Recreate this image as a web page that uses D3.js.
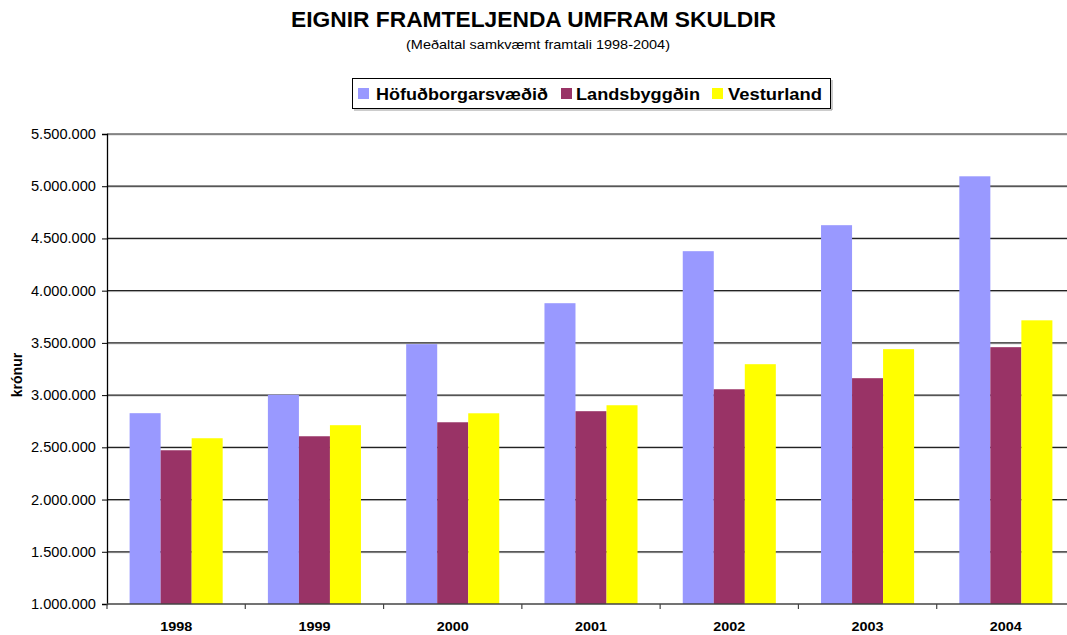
<!DOCTYPE html>
<html><head><meta charset="utf-8">
<script src="https://cdn.jsdelivr.net/npm/d3@7"></script>
<style>body{margin:0;background:#fff}svg{display:block;font-family:"Liberation Sans",Arial,sans-serif}</style>
</head><body><svg id="c" width="1067" height="635"></svg>
<script>
const years = ["1998","1999","2000","2001","2002","2003","2004"];
const seriesNames = ["Höfuðborgarsvæðið","Landsbyggðin","Vesturland"];
const hofud = [2827000,3003000,3488000,3880000,4378000,4627000,5095000];
const lands = [2472000,2606000,2740000,2846000,3056000,3162000,3459000];
const vestur = [2587000,2712000,2826000,2903000,3296000,3440000,3716000];
const yTicks = [1000000,1500000,2000000,2500000,3000000,3500000,4000000,4500000,5000000,5500000];
const colors = ["#9999FF","#993366","#FFFF00"];
const seriesVals = [hofud, lands, vestur];

const svg = d3.select("#c");
const L = 107, R = 1075, T = 134, B = 604;
const x = d3.scaleBand().domain(years).range([L, R]).paddingInner(0.327).paddingOuter(0.1635);
const x0 = d3.scaleBand().domain(years).range([L, R]);
const xs = d3.scaleBand().domain(d3.range(3)).range([0, x.bandwidth()]);
const y = d3.scaleLinear().domain([1000000, 5500000]).range([B, T]);
const fmt = v => d3.format(",")(v).replace(/,/g, ".");

// gridlines
svg.append("g").selectAll("line").data(yTicks.slice(1)).join("line")
  .attr("x1", L).attr("x2", R).attr("y1", d => y(d)).attr("y2", d => y(d))
  .attr("stroke", "#cfcfcf").attr("stroke-width", 1).attr("transform", "translate(0,1)");
svg.append("g").selectAll("line").data(yTicks.slice(1)).join("line")
  .attr("x1", L).attr("x2", R).attr("y1", d => y(d)).attr("y2", d => y(d))
  .attr("stroke", "#222").attr("stroke-width", 1.2);

// bars
const g = svg.append("g");
seriesVals.forEach((vals, si) => {
  g.append("g").selectAll("rect").data(vals).join("rect")
    .attr("x", (d, i) => x(years[i]) + xs(si))
    .attr("width", xs.bandwidth())
    .attr("y", d => y(d))
    .attr("height", d => B - y(d))
    .attr("fill", colors[si]);
});

// y axis
const ya = svg.append("g").attr("transform", `translate(${L},0)`)
  .call(d3.axisLeft(y).tickValues(yTicks).tickFormat(fmt).tickSize(5).tickPadding(6));
ya.select(".domain").attr("stroke", "#000").attr("stroke-width", 1.3);
ya.selectAll(".tick line").attr("stroke", "#000");
ya.selectAll("text").attr("font-size", 14).attr("fill", "#000").attr("font-family", "Liberation Sans, Arial")
  .attr("textLength", 65).attr("lengthAdjust", "spacingAndGlyphs");

// x axis
svg.append("line").attr("x1", L).attr("x2", R).attr("y1", B).attr("y2", B).attr("stroke", "#444").attr("stroke-width", 1.5);
svg.append("g").selectAll("line").data(years).join("line")
  .attr("x1", d => x0(d)).attr("x2", d => x0(d)).attr("y1", B).attr("y2", B + 5)
  .attr("stroke", "#444").attr("stroke-width", 1.2);
svg.append("line").attr("x1", R).attr("x2", R).attr("y1", B).attr("y2", B + 5).attr("stroke", "#444");
svg.append("g").selectAll("text").data(years).join("text")
  .attr("x", d => x0(d) + x0.bandwidth() / 2).attr("y", 631)
  .attr("text-anchor", "middle").attr("font-size", 13).attr("font-weight", "bold")
  .attr("textLength", 32).attr("lengthAdjust", "spacingAndGlyphs").text(d => d);

// y label
svg.append("text").attr("transform", "translate(22,375) rotate(-90)")
  .attr("text-anchor", "middle").attr("font-size", 14).attr("font-weight", "bold").text("krónur");

// title
svg.append("text").attr("x", 533.5).attr("y", 27).attr("text-anchor", "middle")
  .attr("font-size", 22).attr("font-weight", "bold").attr("textLength", 485).attr("lengthAdjust", "spacingAndGlyphs")
  .text("EIGNIR FRAMTELJENDA UMFRAM SKULDIR");
svg.append("text").attr("x", 538).attr("y", 49).attr("text-anchor", "middle")
  .attr("font-size", 13).attr("textLength", 264).attr("lengthAdjust", "spacingAndGlyphs")
  .text("(Meðaltal samkvæmt framtali 1998-2004)");

// legend
svg.append("rect").attr("x", 352.5).attr("y", 78.5).attr("width", 478).attr("height", 30)
  .attr("fill", "#fff").attr("stroke", "#000").attr("stroke-width", 1);
svg.append("line").attr("x1", 354).attr("x2", 832).attr("y1", 110).attr("y2", 110).attr("stroke", "#999");
svg.append("line").attr("x1", 832).attr("x2", 832).attr("y1", 80).attr("y2", 110).attr("stroke", "#999");
const legX = [358, 561, 712], legTX = [376, 576, 728], legW = [172, 124, 94];
seriesNames.forEach((n, i) => {
  svg.append("rect").attr("x", legX[i]).attr("y", 88).attr("width", 11).attr("height", 11).attr("fill", colors[i]);
  svg.append("text").attr("x", legTX[i]).attr("y", 100).attr("font-size", 17).attr("font-weight", "bold")
    .attr("textLength", legW[i]).attr("lengthAdjust", "spacingAndGlyphs").text(n);
});
</script></body></html>
